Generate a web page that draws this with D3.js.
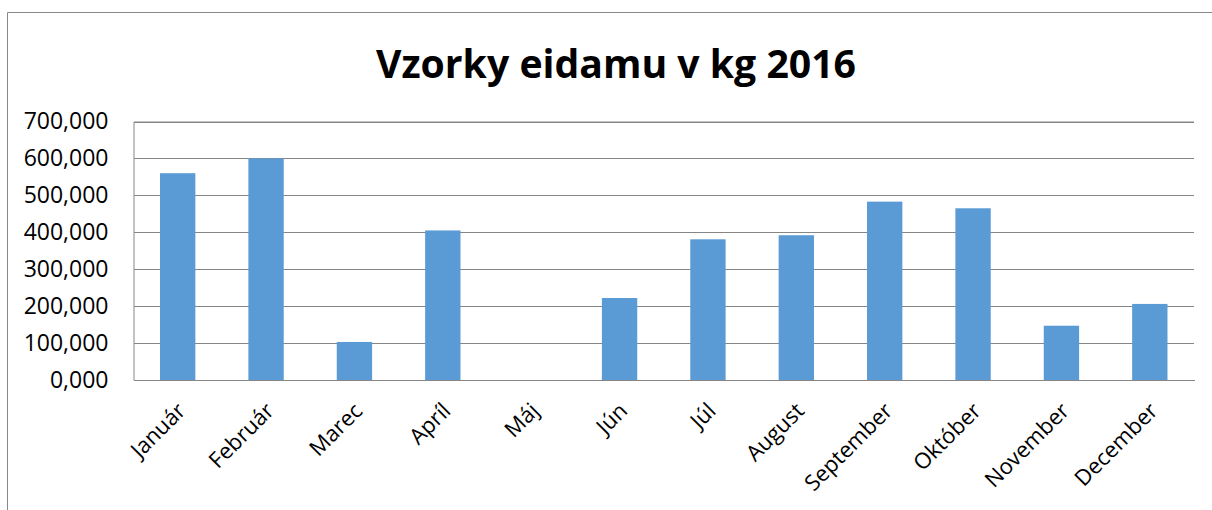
<!DOCTYPE html>
<html>
<head>
<meta charset="utf-8">
<script src="https://cdn.jsdelivr.net/npm/d3@7"></script>
<style>
  html, body { margin: 0; padding: 0; background: #fff; }
  svg { display: block; }
</style>
</head>
<body>
<svg id="chart" width="1212" height="510"></svg>
<script>
const title = "Vzorky eidamu v kg 2016";
const months = ["Január", "Február", "Marec", "Apríl", "Máj", "Jún", "Júl", "August", "September", "Október", "November", "December"];
const values = [560, 600, 103, 405, 0, 222, 381, 392, 483, 465, 147, 206];
const yTicks = [0, 100, 200, 300, 400, 500, 600, 700];

const svg = d3.select("#chart");
const W = 1212, H = 510;
const plot = { left: 133.5, right: 1194, top: 121.5, bottom: 380 };
const fontFam = "'Open Sans', 'DejaVu Sans', sans-serif";

// frame
svg.append("path")
  .attr("d", `M7.5,${H + 5} V12.5 H${W + 5}`)
  .attr("fill", "none")
  .attr("stroke", "#898989")
  .attr("stroke-width", 1);

const x = d3.scaleBand().domain(months).range([plot.left, plot.right]).paddingInner(0.6).paddingOuter(0.3);
const y = d3.scaleLinear().domain([0, 700]).range([plot.bottom, plot.top]);

const loc = d3.formatLocale({ decimal: ",", thousands: " ", grouping: [3] });
const fmt = loc.format(".3f");

// gridlines + y axis
const yAxis = d3.axisLeft(y).tickValues(yTicks).tickSize(-(plot.right - plot.left)).tickFormat(fmt).tickPadding(25);
const gy = svg.append("g").attr("transform", `translate(${plot.left},0)`).call(yAxis);
gy.select(".domain").attr("stroke", "#868686");
gy.selectAll(".tick line").attr("stroke", "#868686").attr("shape-rendering", "crispEdges");
gy.selectAll(".tick text")
  .attr("font-family", fontFam)
  .attr("font-size", 23)
  .attr("fill", "#000");

// bars
svg.append("g").selectAll("rect")
  .data(months.map((m, i) => ({ m, v: values[i] })))
  .join("rect")
  .attr("x", d => x(d.m))
  .attr("width", x.bandwidth())
  .attr("y", d => y(d.v))
  .attr("height", d => y(0) - y(d.v))
  .attr("fill", "#5B9BD5");

// x axis
const xAxis = d3.axisBottom(x).tickSize(0).tickPadding(0);
const gx = svg.append("g").attr("transform", `translate(0,${plot.bottom})`).call(xAxis);
gx.select(".domain").attr("stroke", "#868686").attr("shape-rendering", "crispEdges");
gx.selectAll(".tick text")
  .attr("font-family", fontFam)
  .attr("font-size", 22)
  .attr("fill", "#000")
  .attr("text-anchor", "end")
  .attr("dy", "0.72em")
  .attr("transform", "translate(-2,21) rotate(-45)");

// title
svg.append("text")
  .attr("x", 616)
  .attr("y", 78)
  .attr("text-anchor", "middle")
  .attr("font-family", fontFam)
  .attr("font-weight", "bold")
  .attr("font-size", 40)
  .attr("textLength", 480)
  .attr("lengthAdjust", "spacingAndGlyphs")
  .attr("fill", "#000")
  .text(title);
</script>
</body>
</html>
